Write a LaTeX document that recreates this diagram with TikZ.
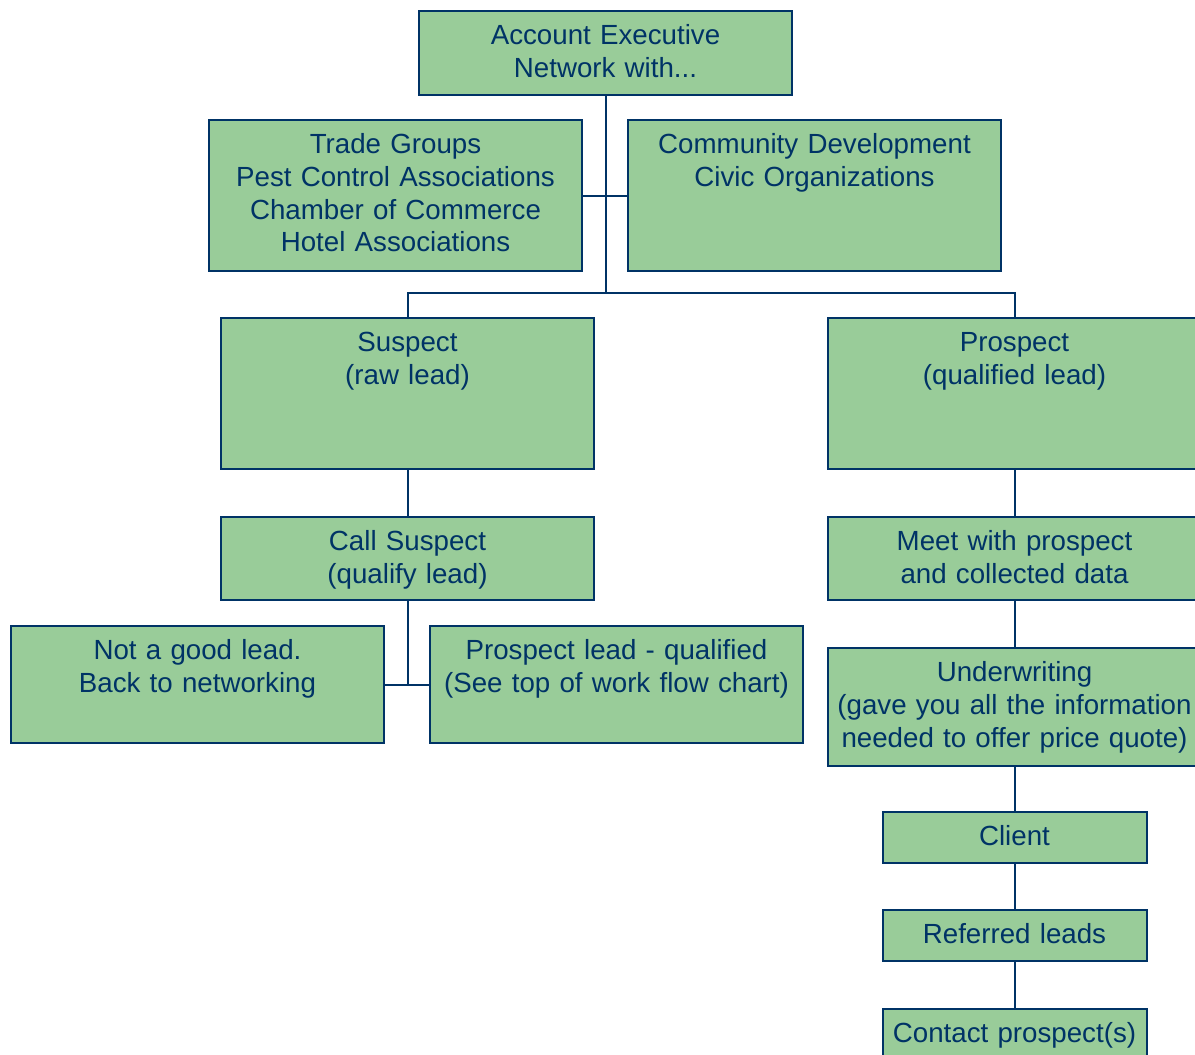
\documentclass[tikz,border=0pt]{standalone}
\usepackage{fontspec}
\setmainfont{Liberation Sans}
\usepackage{tikz}
\usetikzlibrary{positioning}
\definecolor{navyline}{HTML}{003366}
\definecolor{leafgreen}{HTML}{99CC99}
\newcommand{\pxu}{0.5pt}

\tikzset{
  flowbox/.style={draw=navyline, fill=leafgreen, line width=1pt, text=navyline,
    anchor=north, align=center, inner sep=0pt, text width=373*\pxu,
    text height=33.5*\pxu, text depth=#1*\pxu-33.5*\pxu,
    font=\fontsize{13.85}{16.4}\selectfont},
  smallbox/.style={flowbox=51, text width=264*\pxu},
  link/.style={draw=navyline, line width=1pt}
}

\begin{document}
\begin{tikzpicture}[x=\pxu, y=-\pxu]
    \useasboundingbox (0,0) rectangle (1195,1055);

    %% Networking
    \node[flowbox=84] (exec) at (605.5,10) {Account Executive\\Network with...};
    \node[flowbox=151] (trade) at (395.5,119)
        {Trade Groups\\Pest Control Associations\\Chamber of Commerce\\Hotel Associations};
    \node[flowbox=151] (civic) at (814.5,119) {Community Development\\Civic Organizations};
    \coordinate (hub) at (605.5,293);

    %% Suspect branch
    \node[flowbox=151] (suspect) at (407.5,317) {Suspect\\(raw lead)};
    \node[flowbox=83] (callsus) at (407.5,516) {Call Suspect\\(qualify lead)};
    \node[flowbox=117] (badlead) at (197.5,625) {Not a good lead.\\Back to networking};
    \node[flowbox=117] (goodlead) at (616.5,625) {Prospect lead - qualified\\(See top of work flow chart)};

    %% Prospect branch
    \node[flowbox=151] (prospect) at (1014.5,317) {Prospect\\(qualified lead)};
    \node[flowbox=83] (meet) at (1014.5,516) {Meet with prospect\\and collected data};
    \node[flowbox=118] (underw) at (1014.5,647)
        {Underwriting\\(gave you all the information\\needed to offer price quote)};
    \node[smallbox] (client) at (1014.5,811) {Client};
    \node[smallbox] (referred) at (1014.5,909) {Referred leads};
    \node[smallbox] (contact) at (1014.5,1008) {Contact prospect(s)};

    %% connectors
    \draw[link] (exec.south) -- (hub);
    \draw[link] (trade.east) -- (civic.west);
    \draw[link] (suspect.north) |- (hub) -| (prospect.north);
    \draw[link] (suspect) -- (callsus);
    \draw[link] (callsus.south) -- (callsus.south |- badlead.east);
    \draw[link] (badlead.east) -- (goodlead.west);
    \draw[link] (prospect) -- (meet) -- (underw) -- (client) -- (referred) -- (contact);
\end{tikzpicture}
\end{document}
